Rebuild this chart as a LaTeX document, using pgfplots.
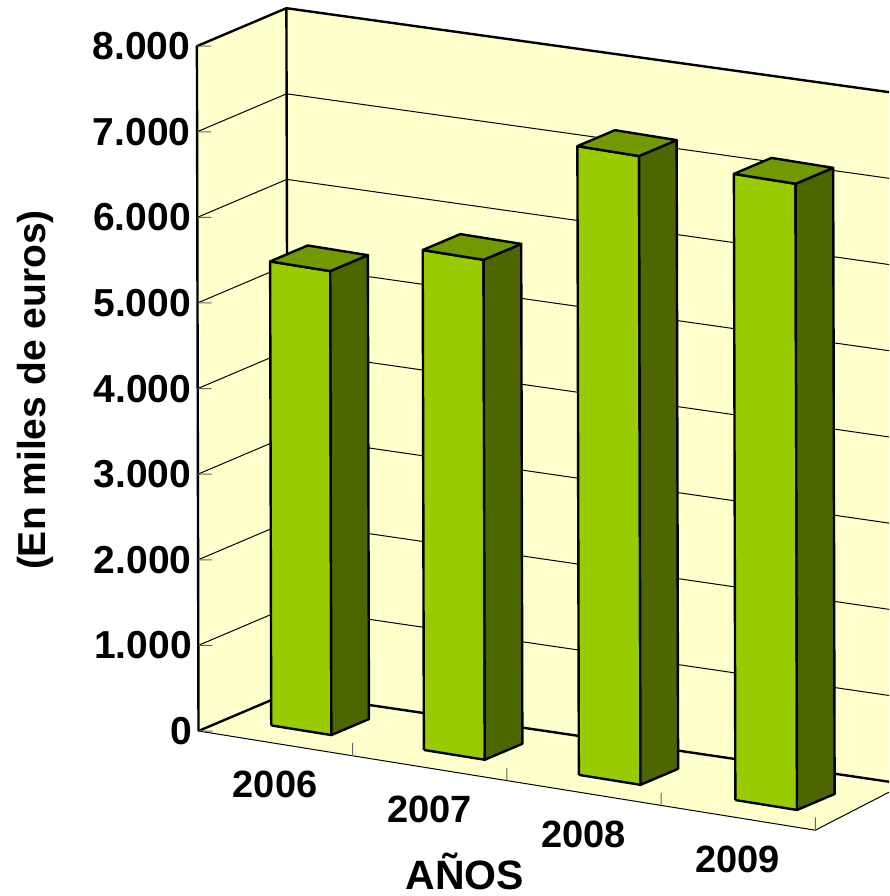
\documentclass[border=0pt]{standalone}
\usepackage{fontspec}
\setmainfont{Liberation Sans}
\usepackage{pgfplots}
\pgfplotsset{compat=1.18}
\definecolor{wall}{HTML}{FFFFCC}
\definecolor{barfront}{HTML}{99CC00}
\definecolor{barside}{HTML}{4D6600}
\definecolor{bartop}{HTML}{739900}
\definecolor{tickgray}{HTML}{666666}
% one 3D bar: x from #1 to #2, height #3
\newcommand{\bardd}[3]{
  \addplot3[draw=black,line width=2.4pt,line join=round,fill=barfront] coordinates {(#1,0.33,0)(#2,0.33,0)(#2,0.33,#3)(#1,0.33,#3)(#1,0.33,0)};
  \addplot3[draw=black,line width=2.4pt,line join=round,fill=barside] coordinates {(#2,0.33,0)(#2,0.75,0)(#2,0.75,#3)(#2,0.33,#3)(#2,0.33,0)};
  \addplot3[draw=black,line width=2.4pt,line join=round,fill=bartop] coordinates {(#1,0.33,#3)(#2,0.33,#3)(#2,0.75,#3)(#1,0.75,#3)(#1,0.33,#3)};
}
\begin{document}
\begin{tikzpicture}
\path[use as bounding box,clip] (0,0) rectangle (889pt,896pt);
\begin{axis}[
    at={(198.5pt,165pt)},anchor=origin,
    x={(154.2pt,-24.8pt)},y={(89.5pt,38pt)},z={(-0.0002pt,0.0856pt)},
    xmin=0,xmax=4,ymin=0,ymax=1,zmin=0,zmax=8000,
    clip=false,
    axis line style={draw=none},tick style={draw=none},
    xtick={0.5,1.5,2.5,3.5},xticklabels={2006,2007,2008,2009},
    ytick=\empty,
    ztick={0,1000,2000,3000,4000,5000,6000,7000,8000},
    scaled z ticks=false,
    /pgf/number format/.cd,1000 sep={.},assume math mode=true,/pgfplots/.cd,
    ticklabel style={font=\fontsize{38}{38}\bfseries\selectfont},
    xticklabel style={xshift=14pt,yshift=-19.5pt},
    zticklabel style={font=\fontsize{39}{39}\bfseries\selectfont,anchor=east,xshift=-3pt},
    xlabel={AÑOS},
    zlabel={(En miles de euros)},
    every axis x label/.style={at={(axis cs:1.725,0,-1140)},anchor=center,inner sep=0pt,font=\fontsize{41}{41}\bfseries\selectfont},
    every axis z label/.style={at={(axis cs:-1.05,0,3678)},rotate=90,anchor=center,font=\fontsize{39}{39}\bfseries\selectfont},
]
% walls and floor
\addplot3[draw=none,fill=wall] coordinates {(0,0,0)(0,1,0)(0,1,8000)(0,0,8000)(0,0,0)};
\addplot3[draw=none,fill=wall] coordinates {(0,1,0)(4,1,95)(4,1,8155)(0,1,8000)(0,1,0)};
\addplot3[draw=none,fill=wall] coordinates {(0,0,0)(4,0,0)(4,1,95)(0,1,0)(0,0,0)};
% grid, the right ends raised a little for the reference's slight perspective
\addplot3[black,line width=1pt] coordinates {(0,0,1000)(0,1,1000)(4,1,1103)};
\addplot3[black,line width=1pt] coordinates {(0,0,2000)(0,1,2000)(4,1,2110)};
\addplot3[black,line width=1pt] coordinates {(0,0,3000)(0,1,3000)(4,1,3118)};
\addplot3[black,line width=1pt] coordinates {(0,0,4000)(0,1,4000)(4,1,4125)};
\addplot3[black,line width=1pt] coordinates {(0,0,5000)(0,1,5000)(4,1,5133)};
\addplot3[black,line width=1pt] coordinates {(0,0,6000)(0,1,6000)(4,1,6140)};
\addplot3[black,line width=1pt] coordinates {(0,0,7000)(0,1,7000)(4,1,7148)};
% frame
\addplot3[black,line width=2.4pt,line join=round] coordinates {(0,0,0)(0,0,8000)(0,1,8000)(4,1,8155)};
\addplot3[black,line width=2.4pt] coordinates {(0,1,0)(0,1,8000)};
\addplot3[black,line width=2.4pt] coordinates {(0,0,0)(0,1,0)(4,1,95)};
\addplot3[black,line width=1pt] coordinates {(0,0,0)(4,0,0)(4,1,95)};
% ticks
\pgfplotsinvokeforeach{1,2,3,4}{
  \addplot3[tickgray,line width=1pt] coordinates {(#1,0,0)(#1,0,150)};
}
\pgfplotsinvokeforeach{0,1000,2000,3000,4000,5000,6000,7000,8000}{
  \addplot3[tickgray,line width=1pt] coordinates {(0,0,#1)(0.066,0.043,#1)};
}
% bars
\bardd{0.28}{0.67}{5420}
\bardd{1.27}{1.665}{5840}
\bardd{2.275}{2.675}{7345}
\bardd{3.29}{3.69}{7315}
\end{axis}
\end{tikzpicture}
\end{document}
